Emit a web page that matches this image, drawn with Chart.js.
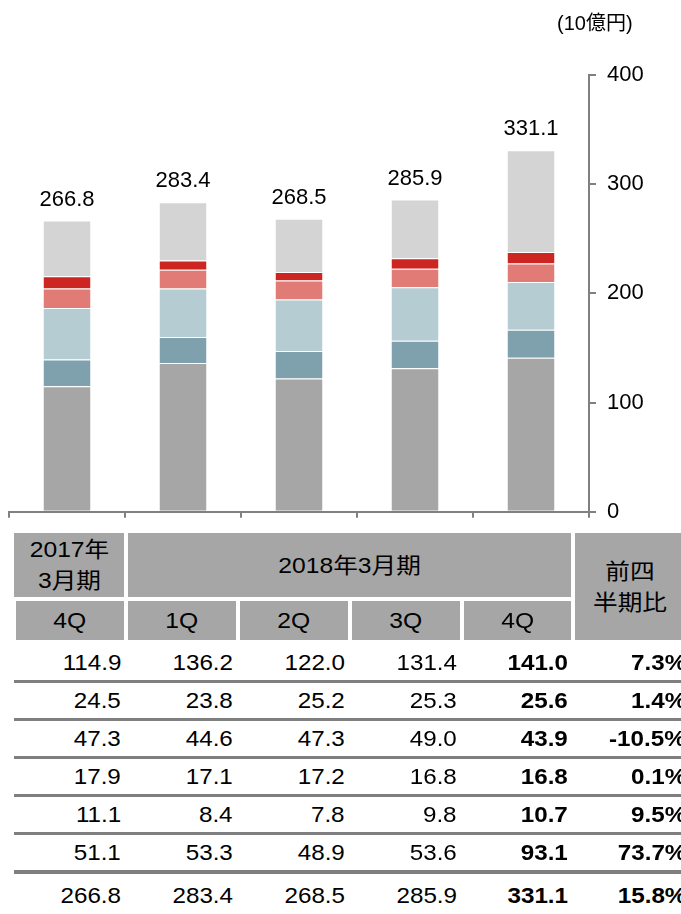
<!DOCTYPE html>
<html>
<head>
<meta charset="utf-8">
<script src="https://cdn.jsdelivr.net/npm/chart.js@4"></script>
<style>
  body { margin: 0; width: 681px; height: 914px; overflow: hidden; position: relative; background: #fff;
         font-family: "Liberation Sans", Arial, "Noto Sans CJK JP", sans-serif; color: #000; }
  #wrap { position: absolute; left: 0; top: 0; width: 681px; height: 536px; }
  #unit { position: absolute; left: 557px; top: 10px; font-size: 20px; line-height: 26px; }
  .box { position: absolute; background: #a6a6a6; display: flex; align-items: center; justify-content: center;
         text-align: center; font-size: 22px; line-height: 31px; }
  .box span { display: inline-block; transform: scaleX(1.12); }
  .row { position: absolute; left: 14px; width: 680px; border-bottom: 3px solid #7f7f7f; }
  .row.last { border-bottom: none; }
  .cell { position: absolute; top: 0; font-size: 22px; text-align: right; white-space: nowrap;
          transform: scaleX(1.1); transform-origin: right center; }
  .b { font-weight: bold; }
</style>
</head>
<body>
<div id="wrap"><canvas id="chart" width="681" height="536"></canvas></div>
<div id="unit">(10億円)</div>
<div id="table"></div>
<script>
const quarters = ['4Q', '1Q', '2Q', '3Q', '4Q'];
const seg1 = [114.9, 136.2, 122.0, 131.4, 141.0];
const seg2 = [24.5, 23.8, 25.2, 25.3, 25.6];
const seg3 = [47.3, 44.6, 47.3, 49.0, 43.9];
const seg4 = [17.9, 17.1, 17.2, 16.8, 16.8];
const seg5 = [11.1, 8.4, 7.8, 9.8, 10.7];
const seg6 = [51.1, 53.3, 48.9, 53.6, 93.1];
const totals = [266.8, 283.4, 268.5, 285.9, 331.1];
const changes = ['7.3%', '1.4%', '-10.5%', '0.1%', '9.5%', '73.7%', '15.8%'];
const yTicks = [0, 100, 200, 300, 400];

const colors = ['#a6a6a6', '#7fa1ad', '#b5cdd2', '#e07b75', '#cc2522', '#d4d4d4'];
const series = [seg1, seg2, seg3, seg4, seg5, seg6];

// 合計ラベル
const totalLabels = {
  id: 'totalLabels',
  afterDatasetsDraw(chart) {
    const meta = chart.getDatasetMeta(chart.data.datasets.length - 1);
    const ctx = chart.ctx;
    ctx.save();
    ctx.font = '22px "Liberation Sans", Arial';
    ctx.fillStyle = '#000';
    ctx.textAlign = 'center';
    ctx.textBaseline = 'middle';
    meta.data.forEach((bar, i) => {
      ctx.fillText(totals[i].toFixed(1), bar.x, bar.y - 21);
    });
    ctx.restore();
  }
};

new Chart(document.getElementById('chart').getContext('2d'), {
  type: 'bar',
  data: {
    labels: quarters,
    datasets: series.map((s, i) => ({
      data: s,
      backgroundColor: colors[i],
      borderColor: 'rgba(255,255,255,0.6)',
      borderWidth: { top: 1, left: 0, right: 0, bottom: 0 },
      borderSkipped: false,
      barPercentage: 0.405,
      categoryPercentage: 1
    }))
  },
  options: {
    responsive: false,
    animation: false,
    layout: { padding: { left: 9, top: 75, right: 0, bottom: 0 } },
    plugins: { legend: { display: false }, tooltip: { enabled: false } },
    scales: {
      x: {
        stacked: true,
        ticks: { display: false },
        grid: { drawOnChartArea: false, drawTicks: true, tickLength: 6, color: '#808080', lineWidth: 2, offset: true },
        border: { display: true, color: '#808080', width: 2 },
        afterFit: s => { s.height = 9; }
      },
      y: {
        stacked: true,
        position: 'right',
        min: 0,
        max: 400,
        afterBuildTicks: s => { s.ticks = yTicks.map(v => ({ value: v })); },
        ticks: { color: '#000', font: { size: 22, family: '"Liberation Sans", Arial' }, padding: 11 },
        grid: { drawOnChartArea: false, drawTicks: true, tickLength: 7, color: '#808080', lineWidth: 2 },
        border: { display: true, color: '#808080', width: 2 },
        afterFit: s => { s.width = 92; }
      }
    }
  },
  plugins: [totalLabels]
});

// 表
const table = document.getElementById('table');
function box(l, t, w, h, html) {
  const d = document.createElement('div');
  d.className = 'box';
  d.style.cssText = `left:${l}px;top:${t}px;width:${w}px;height:${h}px;`;
  d.innerHTML = '<span>' + html + '</span>';
  table.appendChild(d);
}
box(14, 533, 110, 64, '2017年<br>3月期');
box(128, 533, 443, 64, '2018年3月期');
box(575, 533, 110, 107, '前四<br>半期比');
const colLeft = [16, 128, 240, 352, 464];
const colRight = [124, 236, 348, 460, 571];
quarters.forEach((q, i) => box(colLeft[i], 601, colRight[i] - colLeft[i], 39, q));

const rows = series.concat([totals]);
const rightEdges = [121, 233, 345, 457, 568];
rows.forEach((vals, r) => {
  const row = document.createElement('div');
  row.className = 'row' + (r === rows.length - 1 ? ' last' : '');
  const top = r < 6 ? 645 + 38 * r : 878;
  const h = r < 6 ? 35 : 36;
  row.style.cssText = `top:${top}px;height:${h}px;` + (r === 5 ? 'border-bottom-width:4px;' : '');
  vals.forEach((v, i) => {
    const c = document.createElement('div');
    c.className = 'cell' + (i === 4 ? ' b' : '');
    c.style.cssText = `right:${680 - (rightEdges[i] - 14)}px;line-height:${h}px;`;
    c.textContent = v.toFixed(1);
    row.appendChild(c);
  });
  const p = document.createElement('div');
  p.className = 'cell b';
  p.style.cssText = `right:${680 - (686 - 14)}px;line-height:${h}px;`;
  p.textContent = changes[r];
  row.appendChild(p);
  table.appendChild(row);
});
</script>
</body>
</html>
